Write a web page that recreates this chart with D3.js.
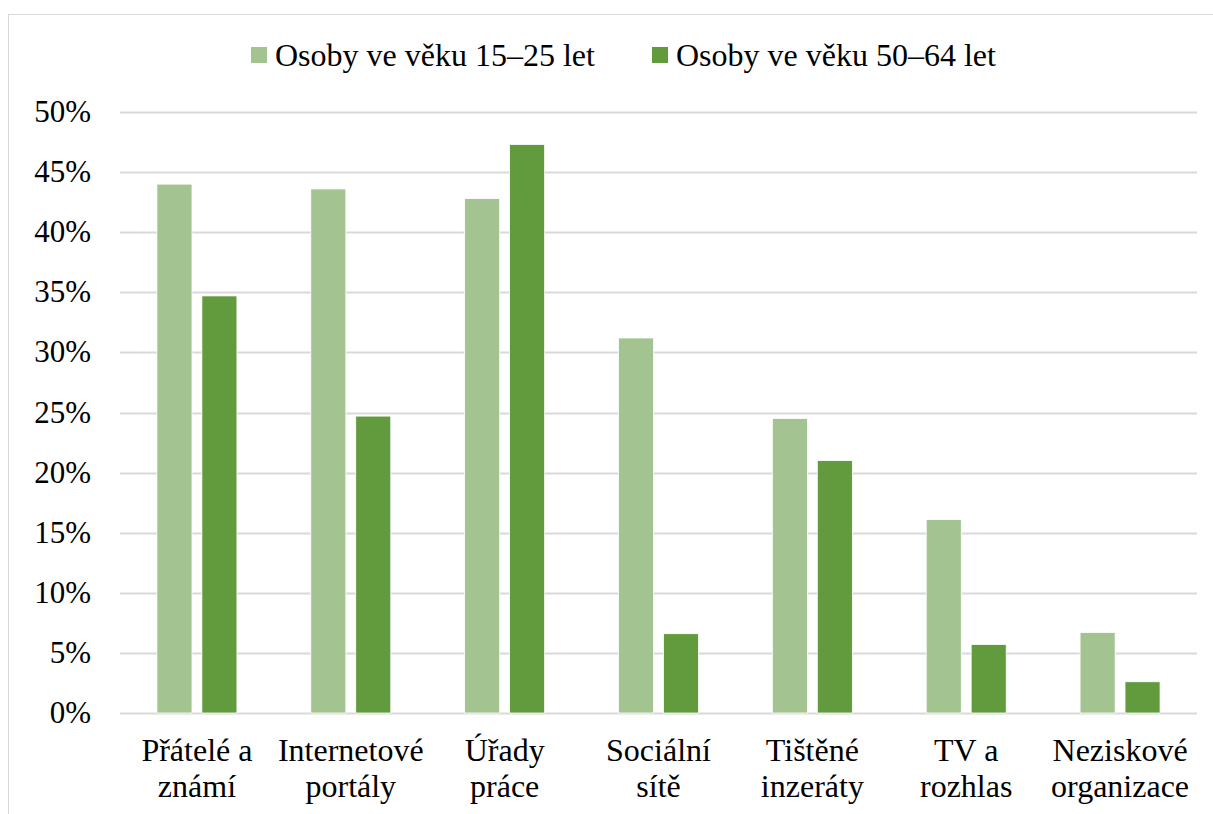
<!DOCTYPE html>
<html>
<head>
<meta charset="utf-8">
<script src="https://cdn.jsdelivr.net/npm/d3@7"></script>
</head>
<body style="margin:0">
<svg id="chart"></svg>
<script>
var width = 1213;
var height = 814;
var margin = {top: 112, right: 16, bottom: 101, left: 120};
var w = width - margin.left - margin.right;
var h = height - margin.top - margin.bottom;
var fonts = ["Liberation Serif"];
function face() { return "'" + fonts[0] + "'"; }

// data
var categories = [["Přátelé a", "známí"], ["Internetové", "portály"], ["Úřady", "práce"],
                  ["Sociální", "sítě"], ["Tištěné", "inzeráty"], ["TV a", "rozhlas"],
                  ["Neziskové", "organizace"]];
var seriesNames = ["Osoby ve věku 15–25 let", "Osoby ve věku 50–64 let"];
var young = [44.0, 43.6, 42.8, 31.2, 24.5, 16.1, 6.7];
var older = [34.7, 24.7, 47.3, 6.6, 21.0, 5.7, 2.6];
var yTicks = [0, 5, 10, 15, 20, 25, 30, 35, 40, 45, 50];
var colors = ["#a3c490", "#629b3d"];

var svg = d3.select("#chart")
    .attr("width", width)
    .attr("height", height)
    .style("display", "block");

// outer frame
svg.append("rect")
    .attr("x", 8.5).attr("y", 14.5)
    .attr("width", width + 20).attr("height", height + 20)
    .attr("fill", "none")
    .attr("stroke", "#d9d9d9")
    .attr("stroke-width", 1);

var chart = svg.append("g")
    .attr("transform", "translate(" + margin.left + "," + margin.top + ")");

var x = d3.scaleBand()
    .domain(d3.range(categories.length))
    .range([0, w]);

var inner = d3.scaleBand()
    .domain([0, 1])
    .range([x.bandwidth() / 2 - 40, x.bandwidth() / 2 + 40])
    .paddingInner(0.22)
    .paddingOuter(0);

var y = d3.scaleLinear()
    .domain([0, 50])
    .range([h, 0]);

// gridlines
chart.append("g")
    .selectAll("line")
    .data(yTicks)
    .join("line")
    .attr("x1", 0).attr("x2", w)
    .attr("y1", function(d) { return Math.round(y(d)) + 0.5; })
    .attr("y2", function(d) { return Math.round(y(d)) + 0.5; })
    .attr("stroke", "#d9d9d9")
    .attr("stroke-width", 2);

// y labels
chart.append("g")
    .selectAll("text")
    .data(yTicks)
    .join("text")
    .attr("x", -29)
    .attr("y", function(d) { return y(d) + 10; })
    .attr("text-anchor", "end")
    .attr("font-size", 31)
    .style("font-family", face)
    .text(function(d) { return d + "%"; });

// bars
[young, older].forEach(function(vals, s) {
    chart.append("g")
        .selectAll("rect")
        .data(vals)
        .join("rect")
        .attr("x", function(d, i) { return x(i) + inner(s); })
        .attr("width", inner.bandwidth())
        .attr("y", function(d) { return y(d); })
        .attr("height", function(d) { return h - y(d); })
        .attr("fill", colors[s])
        .attr("stroke", "#fff")
        .attr("stroke-width", 0.8);
});

// category labels
var labels = chart.append("g")
    .selectAll("text")
    .data(categories)
    .join("text")
    .attr("text-anchor", "middle")
    .attr("font-size", 32)
    .style("font-family", face)
    .attr("transform", function(d, i) {
        return "translate(" + (x(i) + x.bandwidth() / 2) + "," + (h + 48) + ")";
    });

labels.selectAll("tspan")
    .data(function(d) { return d; })
    .join("tspan")
    .attr("x", 0)
    .attr("y", function(d, i) { return i * 36; })
    .text(function(d) { return d; });

// legend
var legendX = [251, 652];
var legend = svg.append("g");
seriesNames.forEach(function(name, s) {
    legend.append("rect")
        .attr("x", legendX[s]).attr("y", 47)
        .attr("width", 16).attr("height", 16)
        .attr("fill", colors[s]);
    legend.append("text")
        .attr("x", legendX[s] + 24)
        .attr("y", 66)
        .attr("font-size", 32)
        .style("font-family", face)
        .text(name);
});
</script>
</body>
</html>
